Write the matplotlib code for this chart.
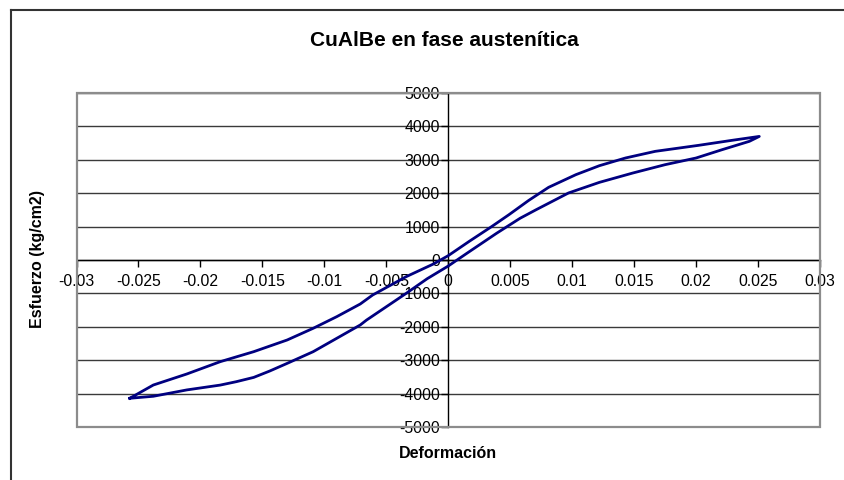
import matplotlib
matplotlib.use("Agg")
import matplotlib.pyplot as plt
from matplotlib.patches import Rectangle
from matplotlib.lines import Line2D

plt.rcParams['font.family'] = ['Liberation Sans', 'DejaVu Sans']

# Hysteresis loop: loading branch from the compressive tip to the tensile tip
load_strain = [-0.0257, -0.0238, -0.0211, -0.0184, -0.0171, -0.0157, -0.0144,
               -0.0130, -0.0109, -0.0090, -0.0071, -0.0066, -0.0034, -0.0017,
               0.0000, 0.0015, 0.0039, 0.0058, 0.0071, 0.0097, 0.0122,
               0.0149, 0.0175, 0.0200, 0.0221, 0.0243, 0.0251]
load_stress = [-4140, -4080, -3890, -3745, -3643, -3515, -3323,
               -3095, -2745, -2345, -1945, -1800, -1000, -560,
               -180, 200, 800, 1250, 1507, 2006, 2325,
               2605, 2854, 3054, 3303, 3553, 3700]

# Unloading branch back from the tensile tip to the compressive tip
unload_strain = [0.0251, 0.0229, 0.0202, 0.0167, 0.0143, 0.0122, 0.0103,
                 0.0081, 0.0065, 0.0049, 0.0035, 0.0017, 0.0000, -0.0012,
                 -0.0034, -0.0061, -0.0071, -0.0090, -0.0109, -0.0130,
                 -0.0157, -0.0184, -0.0211, -0.0238, -0.0257]
unload_stress = [3700, 3583, 3433, 3253, 3054, 2824, 2555,
                 2176, 1786, 1357, 1000, 560, 130, -120,
                 -500, -1048, -1317, -1697, -2045, -2395,
                 -2745, -3044, -3413, -3743, -4140]

x_ticks = [-0.03, -0.025, -0.02, -0.015, -0.01, -0.005, 0, 0.005, 0.01, 0.015, 0.02, 0.025, 0.03]
x_tick_labels = ['-0.03', '-0.025', '-0.02', '-0.015', '-0.01', '-0.005', '0',
                 '0.005', '0.01', '0.015', '0.02', '0.025', '0.03']
y_ticks = [-5000, -4000, -3000, -2000, -1000, 0, 1000, 2000, 3000, 4000, 5000]

W, H = 844, 480
fig = plt.figure(figsize=(W / 100, H / 100), dpi=100)

left, right, top, bottom = 76.5, 820, 93, 427
ax = fig.add_axes([left / W, 1 - bottom / H, (right - left) / W, (bottom - top) / H])

strain = load_strain + unload_strain[1:]
stress = load_stress + unload_stress[1:]
ax.plot(strain, stress, color='#000080', lw=2.0, solid_joinstyle='round', zorder=4)

ax.set_xlim(-0.03, 0.03)
ax.set_ylim(-5000, 5000)
ax.set_xticks(x_ticks)
ax.set_xticklabels(x_tick_labels)
ax.set_yticks(y_ticks)
ax.set_yticklabels([str(v) for v in y_ticks])

# horizontal gridlines
ax.yaxis.grid(True, color='#3a3a3a', lw=1.0)
ax.xaxis.grid(False)
ax.set_axisbelow(True)

# axes cross at the origin
ax.spines['left'].set_position(('data', 0))
ax.spines['bottom'].set_position(('data', 0))
ax.spines['top'].set_visible(False)
ax.spines['right'].set_visible(False)
for s in ('left', 'bottom'):
    ax.spines[s].set_color('black')
    ax.spines[s].set_linewidth(1.0)
    ax.spines[s].set_zorder(3)

ax.tick_params(axis='both', direction='out', length=5, width=1.0, color='black',
               labelsize=11.3, labelcolor='black')
ax.tick_params(axis='x', pad=5)
ax.tick_params(axis='y', pad=1)

# grey plot-area frame
ax.add_patch(Rectangle((0, 0), 1, 1, transform=ax.transAxes, fill=False,
                       edgecolor='#8c8c8c', lw=1.6, zorder=5, clip_on=False))

fig.text(444 / W, 1 - 40 / H, 'CuAlBe en fase austenítica', ha='center', va='center',
         fontsize=15, fontweight='bold')
fig.text(448 / W, 1 - 453 / H, 'Deformación', ha='center', va='center',
         fontsize=11.5, fontweight='bold')
fig.text(38 / W, 1 - 259 / H, 'Esfuerzo (kg/cm2)', ha='center', va='center',
         rotation=90, fontsize=11.5, fontweight='bold')

# outer chart frame
fig.add_artist(Line2D([11 / W, 11 / W], [1 - 10 / H, 0], transform=fig.transFigure,
                      color='#333333', lw=1.5))
fig.add_artist(Line2D([11 / W, 1], [1 - 10 / H, 1 - 10 / H], transform=fig.transFigure,
                      color='#333333', lw=1.5))

fig.savefig('out.png', dpi=100)
